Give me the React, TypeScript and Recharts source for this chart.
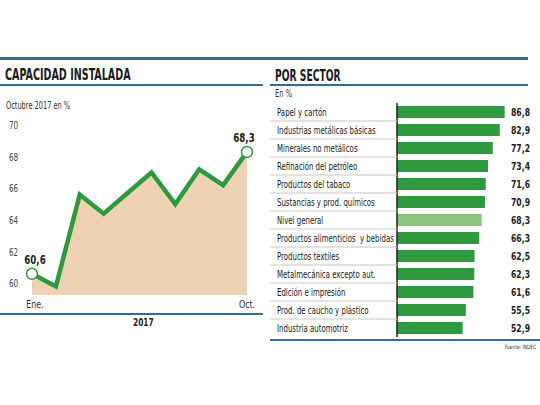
import React from "react";
import {
  ComposedChart,
  Area,
  Line,
  XAxis,
  YAxis,
  BarChart,
  Bar,
  Cell,
  LabelList,
} from "recharts";

const months = ["Ene.", "Feb.", "Mar.", "Abr.", "May.", "Jun.", "Jul.", "Ago.", "Sep.", "Oct."];
const capacity = [60.6, 59.8, 65.6, 64.4, 65.7, 67.0, 65.0, 67.2, 66.2, 68.3];
const yTicks = [60, 62, 64, 66, 68, 70];

const sectors = [
  "Papel y cartón",
  "Industrias metálicas básicas",
  "Minerales no metálicos",
  "Refinación del petróleo",
  "Productos del tabaco",
  "Sustancias y prod. químicos",
  "Nivel general",
  "Productos alimenticios  y bebidas",
  "Productos textiles",
  "Metalmecánica excepto aut.",
  "Edición e impresión",
  "Prod. de caucho y plástico",
  "Industria automotriz",
];
const sectorValues = [86.8, 82.9, 77.2, 73.4, 71.6, 70.9, 68.3, 66.3, 62.5, 62.3, 61.6, 55.5, 52.9];

const FONT = "'DejaVu Sans Condensed', 'DejaVu Sans', sans-serif";
const GREEN = "#2e9a3d";
const LIGHT_GREEN = "#8cc67c";
const BLUE = "#2d6f98";

const lineData = months.map((m, i) => ({ month: m, v: capacity[i] }));
const barData = sectors.map((s, i) => ({ name: s, value: sectorValues[i] }));

const fmt = (v: number) => v.toFixed(1).replace(".", ",");

// narrow svg text: the original uses a tightly condensed face
function NText({ x, y, sx = 0.8, anchor = "start", size = 10, bold = false, fill = "#222", children }: any) {
  return (
    <g transform={`translate(${x},${y}) scale(${sx},1)`}>
      <text x={0} y={0} textAnchor={anchor} fontSize={size} fontWeight={bold ? "bold" : "normal"} fill={fill} fontFamily={FONT} style={{ whiteSpace: "pre" }}>
        {children}
      </text>
    </g>
  );
}

function YTick({ y, payload }: any) {
  return (
    <NText x={9} y={y + 4} sx={0.8} size={10} fill="#444">
      {payload.value}
    </NText>
  );
}

function XTick({ x, y, payload }: any) {
  if (payload.value !== "Ene." && payload.value !== "Oct.") return null;
  return (
    <NText x={payload.value === "Ene." ? x + 3 : x} y={y + 5} sx={0.8} anchor="middle" size={11} fill="#333">
      {payload.value}
    </NText>
  );
}

function EndDot({ cx, cy, index }: any) {
  if (index !== 0 && index !== capacity.length - 1) return null;
  return <circle cx={cx} cy={cy} r={5.5} fill="#fff" stroke={GREEN} strokeWidth={1.5} />;
}

function EndLabel({ x, y, index, value }: any) {
  if (index !== 0 && index !== capacity.length - 1) return null;
  return (
    <NText x={index === 0 ? x + 3 : x - 3} y={y - 10} sx={0.8} anchor="middle" size={12} bold>
      {fmt(value)}
    </NText>
  );
}

function SectorTick({ y, payload, index }: any) {
  return (
    <g>
      <NText x={7} y={y + 4} sx={0.74} size={10.5}>
        {payload.value}
      </NText>
      {index !== sectors.length - 1 && (
        <line x1={0} x2={127} y1={y + 9} y2={y + 9} stroke="#c8c8c8" strokeWidth={1} />
      )}
    </g>
  );
}

function ValueLabel({ y, height, value }: any) {
  return (
    <NText x={260} y={y + height / 2 + 4} sx={0.78} anchor="end" size={11} bold>
      {fmt(value)}
    </NText>
  );
}

const abs = (s: React.CSSProperties): React.CSSProperties => ({ position: "absolute", whiteSpace: "nowrap", ...s });
const narrow = (sx: number, origin = "left top"): React.CSSProperties => ({ transform: `scaleX(${sx})`, transformOrigin: origin });

export default function App() {
  return (
    <div style={{ position: "fixed", left: 0, top: 0, width: 540, height: 405, background: "#fff", fontFamily: FONT }}>
      {/* top rule */}
      <div style={abs({ left: 0, top: 57, width: 528, height: 3, background: BLUE })} />

      {/* left panel */}
      <div style={abs({ left: 5, top: 66, fontSize: 15, fontWeight: "bold", color: "#1c1c1c", ...narrow(0.71) })}>
        CAPACIDAD INSTALADA
      </div>
      <div style={abs({ left: 0, top: 84, width: 263, height: 1.5, background: BLUE })} />
      <div style={abs({ left: 6, top: 99, fontSize: 10.5, color: "#333", ...narrow(0.7) })}>Octubre 2017 en %</div>
      <div style={abs({ left: 0, top: 0 })}>
        <ComposedChart width={270} height={340} data={lineData} margin={{ top: 125, right: 23, bottom: 15, left: 8 }}>
          <XAxis dataKey="month" interval={0} axisLine={false} tickLine={false} height={30} tick={<XTick />} />
          <YAxis
            type="number"
            domain={[59.26, 70]}
            allowDataOverflow
            ticks={yTicks}
            width={24}
            axisLine={false}
            tickLine={false}
            tick={<YTick />}
          />
          <Area type="linear" dataKey="v" stroke="none" fill="#efd2b4" fillOpacity={1} isAnimationActive={false} />
          <Line
            type="linear"
            dataKey="v"
            stroke={GREEN}
            strokeWidth={4.5}
            strokeLinejoin="miter"
            dot={<EndDot />}
            activeDot={false}
            label={<EndLabel />}
            isAnimationActive={false}
          />
        </ComposedChart>
      </div>
      <div style={abs({ left: 0, top: 313, width: 263, height: 1.5, background: BLUE })} />
      <div style={abs({ left: 133, top: 316, fontSize: 11, fontWeight: "bold", color: "#222", ...narrow(0.75) })}>2017</div>

      {/* right panel */}
      <div style={abs({ left: 275, top: 67, fontSize: 15, fontWeight: "bold", color: "#1c1c1c", ...narrow(0.68) })}>
        POR SECTOR
      </div>
      <div style={abs({ left: 270, top: 84, width: 258, height: 1.5, background: BLUE })} />
      <div style={abs({ left: 275, top: 88, fontSize: 10, color: "#333", ...narrow(0.75) })}>En %</div>
      <div style={abs({ left: 270, top: 0 })}>
        <BarChart width={270} height={340} data={barData} layout="vertical" margin={{ top: 103, right: 19, bottom: 3, left: 0 }}>
          <XAxis type="number" domain={[0, 100]} hide />
          <YAxis
            type="category"
            dataKey="name"
            width={127}
            axisLine={{ stroke: "#222", strokeWidth: 1.5 }}
            tickLine={false}
            tick={<SectorTick />}
            interval={0}
          />
          <Bar dataKey="value" barSize={12} isAnimationActive={false}>
            {barData.map((d, i) => (
              <Cell key={i} fill={d.name === "Nivel general" ? LIGHT_GREEN : GREEN} />
            ))}
            <LabelList dataKey="value" content={<ValueLabel />} />
          </Bar>
        </BarChart>
      </div>
      <div style={abs({ left: 270, top: 339, width: 270, height: 1.5, background: BLUE })} />
      <div style={abs({ left: 470, top: 343, width: 66, textAlign: "right", fontSize: 6, color: "#333", ...narrow(0.8, "right top") })}>
        Fuente: INDEC
      </div>
    </div>
  );
}
